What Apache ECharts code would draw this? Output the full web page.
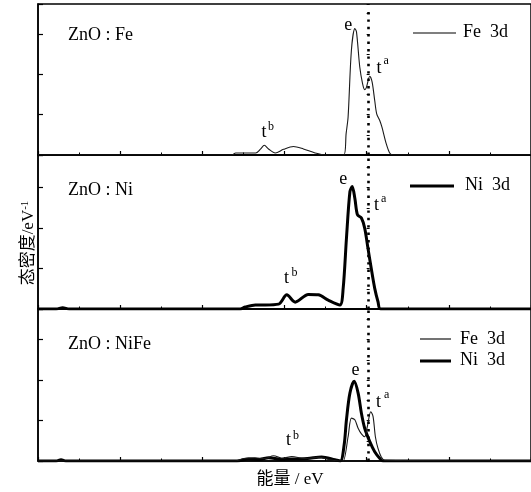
<!DOCTYPE html>
<html>
<head>
<meta charset="utf-8">
<script src="https://cdn.jsdelivr.net/npm/echarts@6/dist/echarts.min.js"></script>
<style>
html,body{margin:0;padding:0;background:#fff;}
#c{width:531px;height:492px;}
</style>
</head>
<body>
<div id="c"></div>
<script>
// ---- data (energy in eV, density of states in 1/eV) ----
const feTopE = [-20, -8.2, -7.97, -6.75, -6.45, -6.23, -5.97, -5.56, -5.06, -4.46, -3.85, -3.14, -2.5, -1.39, -1.25, -1.13, -0.93, -0.72, -0.62, -0.42, -0.25, -0.12, -0.02, 0.19, 0.33, 0.49, 0.61, 0.79, 0.93, 1.19, 1.4, 1.6, 10];
const feTopV = [0, 0, 0.05, 0.05, 0.15, 0.24, 0.15, 0.05, 0.14, 0.21, 0.15, 0.05, 0, 0, 0.53, 0.94, 2.59, 3.13, 3.05, 2.18, 1.77, 1.62, 1.67, 1.95, 1.81, 1.35, 1.02, 0.86, 0.69, 0.28, 0.05, 0, 0];

const niMidE = [-20, -18.9, -18.5, -18.1, -7.7, -7.38, -6.77, -6.17, -5.36, -4.86, -4.35, -3.55, -2.94, -2.34, -1.63, -1.43, -1.23, -1.02, -0.88, -0.72, -0.56, -0.32, -0.12, 0.08, 0.28, 0.49, 0.69, 0.85, 10];
const niMidV = [0, 0, 0.03, 0, 0, 0.05, 0.1, 0.1, 0.12, 0.35, 0.17, 0.36, 0.35, 0.22, 0.1, 0.51, 1.75, 2.9, 3.03, 2.74, 2.33, 2.25, 2.0, 1.5, 1.0, 0.51, 0.18, 0, 0];

const feBotE = [-20, -8.0, -7.5, -6.8, -6.2, -5.67, -5.1, -4.56, -3.8, -2.94, -2.2, -1.6, -1.43, -1.13, -0.93, -0.72, -0.52, -0.32, -0.12, 0.04, 0.25, 0.39, 0.53, 0.69, 0.89, 1.1, 10];
const feBotV = [0, 0, 0.06, 0.08, 0.06, 0.13, 0.07, 0.11, 0.06, 0.09, 0.03, 0, 0, 0.6, 1.06, 1.02, 0.81, 0.67, 0.6, 0.85, 1.22, 1.1, 0.6, 0.31, 0.1, 0.02, 0];

const niBotE = [-20, -18.9, -18.6, -18.3, -7.9, -7.18, -6.5, -5.97, -5.2, -4.35, -3.6, -2.74, -1.93, -1.6, -1.37, -1.23, -1.02, -0.76, -0.52, -0.32, -0.12, 0.19, 0.49, 0.79, 0.99, 10];
const niBotV = [0, 0, 0.03, 0, 0, 0.05, 0.04, 0.08, 0.04, 0.05, 0.06, 0.1, 0.03, 0, 0.4, 1.02, 1.68, 1.97, 1.68, 1.18, 0.81, 0.48, 0.23, 0.07, 0, 0];

const fermiE = 0.08;
const panelNames = ['ZnO : Fe', 'ZnO : Ni', 'ZnO : NiFe'];
const xTitle = '能量 / eV';
const yTitle = '态密度/eV';

// ---- layout ----
const FONT = '"Liberation Serif", "Noto Sans CJK SC", serif';
const grids = [
  {left: 38, top: 4, width: 496, height: 151, ymax: 3.74, dotTop: 3.55},
  {left: 38, top: 155, width: 496, height: 154, ymax: 3.81, dotTop: 3.81},
  {left: 38, top: 309, width: 496, height: 152, ymax: 3.76, dotTop: 3.76}
];

const pairs = (e, v) => e.map((x, i) => [x, v[i]]);

const xAxis = grids.map((g, i) => ({
  type: 'value', gridIndex: i, min: -20, max: 10, interval: 5,
  axisLabel: {show: false},
  axisLine: {show: true, onZero: false, lineStyle: {color: '#000', width: 1.5}},
  axisTick: {show: true, inside: true, length: 4, lineStyle: {color: '#000', width: 1.2}},
  minorTick: {show: true, splitNumber: 2, length: 2.5, lineStyle: {color: '#000', width: 1}},
  splitLine: {show: false}, minorSplitLine: {show: false}
}));

const yAxis = [];
grids.forEach((g, i) => {
  yAxis.push({
    type: 'value', gridIndex: i, min: 0, max: g.ymax, interval: 1, position: 'left',
    axisLabel: {show: false},
    axisLine: {show: true, onZero: false, lineStyle: {color: '#000', width: 1.5}},
    axisTick: {show: true, inside: true, length: 5, lineStyle: {color: '#000', width: 1.2}},
    splitLine: {show: false}
  });
  yAxis.push({
    type: 'value', gridIndex: i, min: 0, max: g.ymax, interval: 0.5, position: 'left', offset: 0,
    axisLabel: {show: false},
    axisLine: {show: false},
    axisTick: {show: true, inside: true, length: 3, lineStyle: {color: '#000', width: 1}},
    splitLine: {show: false}
  });
});

function dotted(i) {
  return {
    silent: true, symbol: 'none', label: {show: false},
    lineStyle: {color: '#000', width: 2.6, type: [2.4, 5], cap: 'butt'},
    data: [[{coord: [fermiE, 0]}, {coord: [fermiE, grids[i].dotTop]}]]
  };
}

function line(name, e, v, gi, width, color, z) {
  return {
    name: name, type: 'line', xAxisIndex: gi, yAxisIndex: gi * 2,
    data: pairs(e, v), showSymbol: false, smooth: 0.3, z: z,
    lineStyle: {width: width, color: color}, itemStyle: {color: color}
  };
}

const series = [
  Object.assign(line('Fe 3d', feTopE, feTopV, 0, 1.1, '#1a1a1a', 3), {markLine: dotted(0)}),
  Object.assign(line('Ni 3d', niMidE, niMidV, 1, 3, '#000', 3), {markLine: dotted(1)}),
  Object.assign(line('Ni 3d', niBotE, niBotV, 2, 3, '#000', 3), {markLine: dotted(2)}),
  line('Fe 3d', feBotE, feBotV, 2, 1.1, '#1a1a1a', 4)
];

// ---- text and legend graphics ----
function txt(s, x, y, size, align) {
  return {type: 'text', x: x, y: y, style: {text: s, fontSize: size, fontFamily: FONT, fill: '#000', align: align || 'left', verticalAlign: 'middle'}};
}
function seg(x1, x2, y, w) {
  return {type: 'line', shape: {x1: x1, y1: y, x2: x2, y2: y}, style: {stroke: '#000', lineWidth: w}};
}

const graphic = [
  // panel labels
  txt(panelNames[0], 68, 35.6, 18),
  txt(panelNames[1], 68, 190.6, 18),
  txt(panelNames[2], 68, 343.9, 18),
  // legends
  seg(413, 456, 33, 1.1), txt('Fe  3d', 508, 32.2, 18, 'right'),
  seg(410, 454, 186, 3), txt('Ni  3d', 510, 185.6, 18, 'right'),
  seg(420, 451, 339, 1.1), txt('Fe  3d', 505, 338.9, 18, 'right'),
  seg(420, 451, 361, 3), txt('Ni  3d', 505, 360.6, 18, 'right'),
  // annotations top
  txt('e', 348.3, 25.6, 18, 'center'),
  txt('t', 376.5, 67.9, 18), txt('a', 383.5, 61, 12),
  txt('t', 261.5, 132.2, 18), txt('b', 268, 126.6, 12),
  // annotations middle
  txt('e', 343.3, 178.9, 18, 'center'),
  txt('t', 374, 205.6, 18), txt('a', 381, 199.3, 12),
  txt('t', 284, 278.2, 18), txt('b', 291.5, 272.6, 12),
  // annotations bottom
  txt('e', 355.5, 369.9, 18, 'center'),
  txt('t', 376, 402.2, 18), txt('a', 384, 395.3, 12),
  txt('t', 286, 440.6, 18), txt('b', 293, 435.9, 12),
  // axis titles
  txt(xTitle, 290, 480, 17, 'center'),
  {
    type: 'text', x: 29, y: 243, rotation: Math.PI / 2,
    style: {
      text: '{m|' + yTitle + '}{s|-1}',
      align: 'center', verticalAlign: 'middle',
      rich: {
        m: {fontSize: 17, fontFamily: FONT, fill: '#000', lineHeight: 19},
        s: {fontSize: 11, fontFamily: FONT, fill: '#000', verticalAlign: 'top'}
      }
    }
  }
];

const chart = echarts.init(document.getElementById('c'), null, {renderer: 'canvas'});
chart.setOption({
  backgroundColor: '#fff',
  animation: false,
  grid: grids.map(g => ({left: g.left, top: g.top, width: g.width, height: g.height, show: true, borderColor: '#000', borderWidth: 1.5, backgroundColor: 'transparent'})),
  xAxis: xAxis,
  yAxis: yAxis,
  series: series,
  graphic: graphic
});
</script>
</body>
</html>
